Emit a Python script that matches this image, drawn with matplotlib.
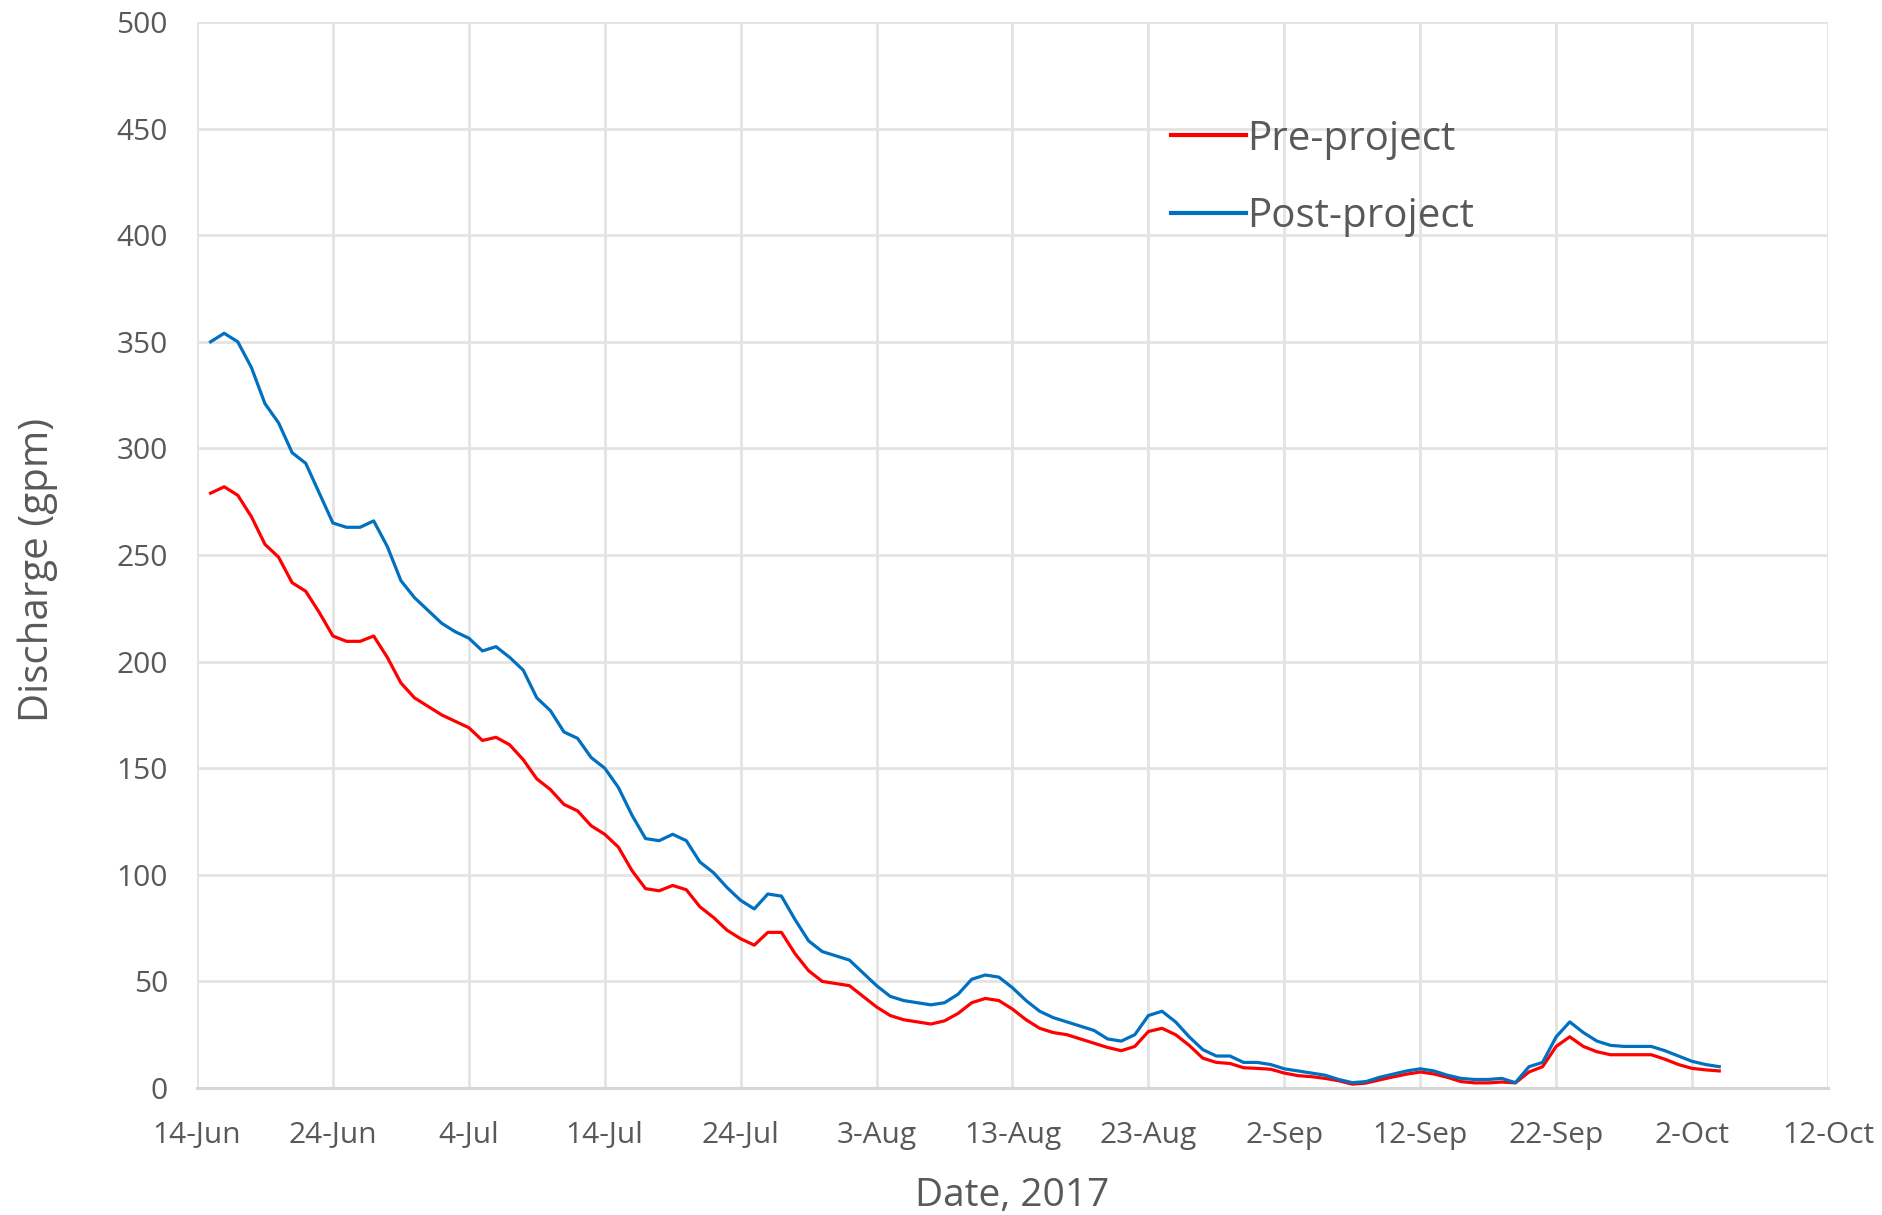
import matplotlib
matplotlib.use("Agg")
import matplotlib.pyplot as plt
import pandas as pd

plt.rcParams['font.family'] = ['Open Sans', 'DejaVu Sans']

# ---- data ----
start_date = "2017-06-15"
pre_project = [
    279, 282, 278, 268, 255, 249, 237, 233, 223, 212,
    209.5, 209.5, 212, 202, 190, 183, 179, 175, 172, 169,
    163, 164.5, 161, 154, 145, 140, 133, 130, 123, 119,
    113, 102, 93.5, 92.5, 95, 93, 85, 80, 74, 70,
    67, 73, 73, 63, 55, 50, 49, 48, 43, 38,
    34, 32, 31, 30, 31.5, 35, 40, 42, 41, 37,
    32, 28, 26, 25, 23, 21, 19, 17.5, 19.5, 26.5,
    28, 25, 20, 14, 12, 11.5, 9.5, 9.2, 8.8, 7,
    5.8, 5.3, 4.5, 3.4, 1.8, 2.3, 3.8, 5.2, 6.5, 7.5,
    6.6, 5, 3, 2.4, 2.4, 2.8, 2.4, 7.5, 10, 19.5,
    24, 19.5, 17, 15.6, 15.6, 15.6, 15.6, 13.5, 11, 9.2,
    8.5, 8,
]
post_project = [
    350, 354, 350, 338, 321, 312, 298, 293, 279, 265,
    263, 263, 266, 254, 238, 230, 224, 218, 214, 211,
    205, 207, 202, 196, 183, 177, 167, 164, 155, 150,
    141, 128, 117, 116, 119, 116, 106, 101, 94, 88,
    84, 91, 90, 79, 69, 64, 62, 60, 54, 48,
    43, 41, 40, 39, 40, 44, 51, 53, 52, 47,
    41, 36, 33, 31, 29, 27, 23, 22, 25, 34,
    36, 31, 24, 18, 15, 15, 12, 12, 11, 9,
    8, 7, 6, 4, 2.5, 3, 5, 6.5, 8, 9,
    8, 6, 4.5, 4, 4, 4.5, 2.5, 10, 12, 24,
    31, 26, 22, 20, 19.5, 19.5, 19.5, 17.5, 15, 12.5,
    11, 10,
]
tick_dates = ["2017-06-14", "2017-06-24", "2017-07-04", "2017-07-14", "2017-07-24",
              "2017-08-03", "2017-08-13", "2017-08-23", "2017-09-02", "2017-09-12",
              "2017-09-22", "2017-10-02", "2017-10-12"]
tick_labels = ["14-Jun", "24-Jun", "4-Jul", "14-Jul", "24-Jul", "3-Aug", "13-Aug",
               "23-Aug", "2-Sep", "12-Sep", "22-Sep", "2-Oct", "12-Oct"]
y_ticks = [0, 50, 100, 150, 200, 250, 300, 350, 400, 450, 500]

dates = pd.date_range(start_date, periods=len(pre_project), freq="D")
tick_pos = pd.to_datetime(tick_dates)

# ---- figure ----
W, H = 1882, 1215
L, R, T, B = 197, 1828, 22, 1088
fig = plt.figure(figsize=(W / 100, H / 100), dpi=100)
ax = fig.add_axes([L / W, 1 - B / H, (R - L) / W, (B - T) / H])

text_col = "#595959"
grid_col = "#e3e3e3"

ax.plot(dates, pre_project, color="#ff0000", lw=2.3, label="Pre-project", zorder=3)
ax.plot(dates, post_project, color="#0070c0", lw=2.3, label="Post-project", zorder=4)

ax.set_xlim(tick_pos[0], tick_pos[-1])
ax.set_ylim(0, 500)
ax.set_xticks(tick_pos)
ax.set_xticklabels(tick_labels)
ax.set_yticks(y_ticks)
ax.set_yticklabels([str(v) for v in y_ticks])

ax.grid(True, color=grid_col, lw=2.0, zorder=0)
ax.set_axisbelow(True)
for s in ["top", "right", "left"]:
    ax.spines[s].set_visible(False)
ax.spines["bottom"].set_color("#d6d6d6")
ax.spines["bottom"].set_linewidth(2.2)

ax.tick_params(axis="both", length=0, labelsize=21.5, colors=text_col)
ax.tick_params(axis="y", pad=21)
ax.tick_params(axis="x", pad=24)

ax.set_ylabel("Discharge (gpm)", fontsize=29, color=text_col, labelpad=0)
ax.yaxis.set_label_coords((38 - L) / (R - L), (B - 570) / (B - T))
ax.set_xlabel("Date, 2017", fontsize=28, color=text_col)
ax.xaxis.set_label_coords(0.5, -(1196 - B) / (B - T))
ax.xaxis.label.set_va("center")
ax.yaxis.label.set_va("center")

leg = ax.legend(loc="upper left", bbox_to_anchor=(1171 / W, 1 - 119 / H),
                bbox_transform=fig.transFigure, frameon=False, fontsize=29,
                handlelength=1.85, handletextpad=0.05, labelspacing=0.93,
                borderpad=0, borderaxespad=0)
for t in leg.get_texts():
    t.set_color(text_col)
for l in leg.get_lines():
    l.set_linewidth(3)

fig.savefig("out.png", dpi=100)
